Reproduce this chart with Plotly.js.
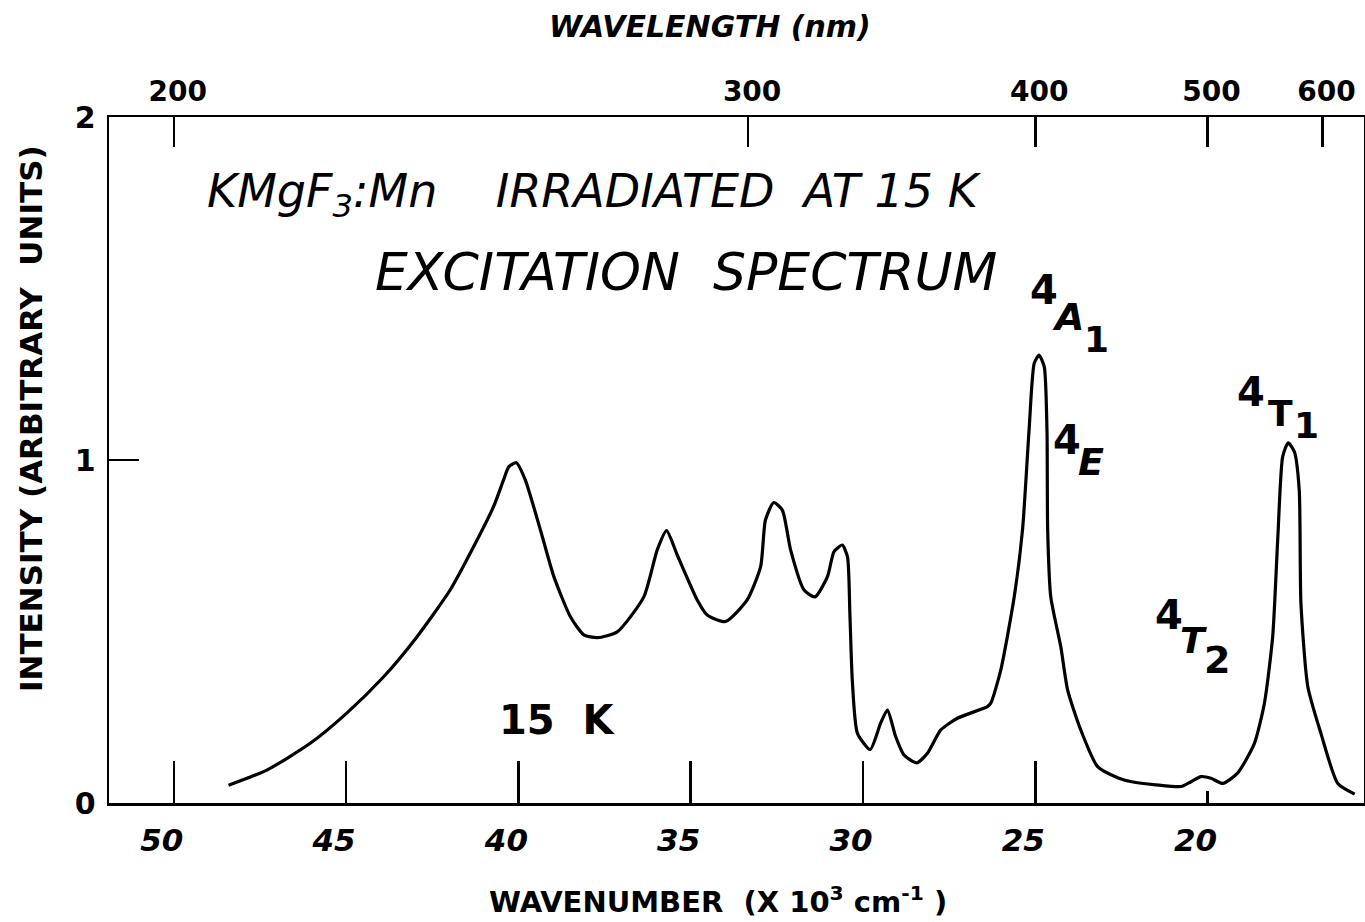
<!DOCTYPE html>
<html>
<head>
<meta charset="utf-8">
<script src="https://cdn.plot.ly/plotly-3.0.1.min.js"></script>
<style>html,body{margin:0;padding:0;background:#fff;}#chart{width:1365px;height:922px;}</style>
</head>
<body>
<div id="chart"></div>
<script>
// wavenumber (x 10^3 cm^-1) and intensity (arbitrary units)
const wavenumber = [48.41, 47.30, 46.04, 44.98, 43.91, 42.94, 41.98, 41.30, 40.72, 40.43, 40.28, 40.06,
  39.80, 39.36, 38.97, 38.49, 38.10, 37.71, 37.13, 36.36, 35.97, 35.70, 35.39, 34.81, 34.52, 33.99,
  33.36, 32.97, 32.83, 32.59, 32.34, 32.10, 31.71, 31.39, 31.03, 30.84, 30.60, 30.45, 30.38, 30.31,
  30.16, 29.79, 29.49, 29.29, 29.05, 28.81, 28.44, 28.13, 27.74, 27.26, 26.39, 26.29, 26.00, 25.61,
  25.37, 25.18, 25.03, 24.89, 24.74, 24.66, 24.64, 24.55, 24.26, 24.06, 23.68, 23.19, 22.59, 22.20,
  21.50, 20.77, 20.48, 20.19, 19.90, 19.56, 19.13, 18.64, 18.35, 18.11, 17.96, 17.82, 17.66, 17.48,
  17.34, 17.29, 17.09, 16.71, 16.22, 15.73];
const intensity = [0.052, 0.096, 0.174, 0.262, 0.368, 0.485, 0.621, 0.747, 0.864, 0.942, 0.980, 0.992,
  0.942, 0.796, 0.660, 0.543, 0.490, 0.482, 0.499, 0.601, 0.738, 0.794, 0.723, 0.592, 0.548, 0.529,
  0.592, 0.689, 0.825, 0.876, 0.854, 0.738, 0.621, 0.601, 0.660, 0.733, 0.752, 0.718, 0.553, 0.359,
  0.203, 0.156, 0.232, 0.271, 0.193, 0.140, 0.117, 0.145, 0.213, 0.247, 0.281, 0.291, 0.388, 0.601,
  0.796, 1.087, 1.282, 1.306, 1.272, 1.087, 0.796, 0.601, 0.456, 0.329, 0.213, 0.106, 0.073, 0.062,
  0.053, 0.048, 0.062, 0.077, 0.072, 0.057, 0.087, 0.174, 0.291, 0.485, 0.776, 1.010, 1.050, 1.024,
  0.913, 0.582, 0.339, 0.203, 0.057, 0.026];

// axis ticks
const wavenumberTicks = [50, 45, 40, 35, 30, 25, 20];
const wavenumberLongTicks = [50, 45, 40, 35, 30, 25];
const wavelengthTicks = [200, 300, 400, 500, 600];
const intensityTicks = [0, 1, 2];

const xRange = [51.88, 15.46];
const yRange = [0, 2];

const FB = 'DejaVu Sans, Liberation Sans, sans-serif';

const trace = {
  x: wavenumber, y: intensity, type: 'scatter', mode: 'lines',
  line: {color: '#000', width: 3.2, shape: 'spline', smoothing: 0.6},
  hoverinfo: 'skip', showlegend: false
};

function ann(text, x, y, size, opts) {
  return Object.assign({
    text: text, x: x, y: y, xref: 'x', yref: 'y', showarrow: false,
    xanchor: 'center', yanchor: 'middle',
    font: {family: FB, size: size, color: '#000', weight: 700}
  }, opts || {});
}
const ital = (size) => ({family: FB, size: size, color: '#000', weight: 700, style: 'italic'});
const titleFont = (size) => ({family: FB, size: size, color: '#000', weight: 400, style: 'italic'});

const annotations = [
  ann('KMgF<sub>3</sub>:Mn    IRRADIATED  AT 15 K', 49.09, 1.773, 46,
      {xanchor: 'left', font: titleFont(46)}),
  ann('EXCITATION  SPECTRUM', 44.21, 1.548, 52,
      {xanchor: 'left', font: titleFont(52)}),
  ann('15  K', 38.87, 0.242, 40),
  // 4A1
  ann('4', 24.75, 1.496, 40),
  ann('A', 24.05, 1.418, 38, {font: ital(38)}),
  ann('1', 23.22, 1.352, 36),
  // 4E
  ann('4', 24.08, 1.058, 40),
  ann('E', 23.39, 0.994, 38, {font: ital(38)}),
  // 4T2
  ann('4', 21.12, 0.548, 40),
  ann('T', 20.42, 0.475, 36, {font: ital(36)}),
  ann('2', 19.73, 0.417, 38),
  // 4T1
  ann('4', 18.74, 1.198, 40),
  ann('T', 17.87, 1.137, 36),
  ann('1', 17.14, 1.102, 36),
  // axis titles
  {text: 'WAVENUMBER  (X 10<sup>3</sup> cm<sup>-1</sup> )', xref: 'paper', yref: 'paper', x: 0.485, y: -0.142,
   showarrow: false, xanchor: 'center', yanchor: 'middle', font: {family: FB, size: 29, color: '#000', weight: 700}},
  {text: 'WAVELENGTH (nm)', xref: 'paper', yref: 'paper', x: 0.479, y: 1.132,
   showarrow: false, xanchor: 'center', yanchor: 'middle', font: {family: FB, size: 30, color: '#000', weight: 700, style: 'italic'}},
  {text: 'INTENSITY (ARBITRARY  UNITS)', xref: 'paper', yref: 'paper', x: -0.062, y: 0.56, textangle: -90,
   showarrow: false, xanchor: 'center', yanchor: 'middle', font: {family: FB, size: 31, color: '#000', weight: 700}}
];

const layout = {
  width: 1365, height: 922,
  margin: {l: 109, r: 1, t: 117, b: 119},
  paper_bgcolor: '#fff', plot_bgcolor: '#fff',
  showlegend: false,
  xaxis: {
    range: xRange, showgrid: false, zeroline: false,
    showline: true, linecolor: '#000', linewidth: 2.5, mirror: false,
    tickmode: 'array', tickvals: wavenumberTicks, ticktext: wavenumberTicks.map(String),
    ticks: 'inside', ticklen: 12, tickwidth: 2.5, tickcolor: '#000',
    tickfont: {family: FB, size: 31, color: '#000', weight: 700, style: 'italic'},
    ticklabelstandoff: 8, ticklabelshift: 12
  },
  xaxis3: {
    range: xRange, overlaying: 'x', side: 'bottom', showgrid: false, zeroline: false,
    showline: false, tickmode: 'array', tickvals: wavenumberLongTicks, showticklabels: false,
    ticks: 'inside', ticklen: 42, tickwidth: 2.5, tickcolor: '#000'
  },
  xaxis2: {
    range: xRange, overlaying: 'x', side: 'top', showgrid: false, zeroline: false,
    showline: true, linecolor: '#000', linewidth: 2.5,
    tickmode: 'array', tickvals: wavelengthTicks.map(nm => 1e4 / nm), ticktext: wavelengthTicks.map(String),
    ticks: 'inside', ticklen: 30, tickwidth: 2.5, tickcolor: '#000',
    tickfont: {family: FB, size: 28, color: '#000', weight: 700},
    ticklabelstandoff: 2, ticklabelshift: -4
  },
  yaxis: {
    range: yRange, showgrid: false, zeroline: false,
    showline: true, linecolor: '#000', linewidth: 2.5, mirror: true,
    tickmode: 'array', tickvals: intensityTicks, ticktext: intensityTicks.map(String),
    ticks: 'inside', ticklen: 30, tickwidth: 2.5, tickcolor: '#000',
    tickfont: {family: FB, size: 30, color: '#000', weight: 700},
    ticklabelstandoff: 5
  },
  annotations: annotations
};

const dummy2 = {x: [xRange[0]], y: [0], xaxis: 'x2', yaxis: 'y', mode: 'markers', marker: {opacity: 0}, hoverinfo: 'skip', showlegend: false};
const dummy3 = {x: [xRange[0]], y: [0], xaxis: 'x3', yaxis: 'y', mode: 'markers', marker: {opacity: 0}, hoverinfo: 'skip', showlegend: false};

Plotly.newPlot('chart', [trace, dummy2, dummy3], layout, {staticPlot: true, displayModeBar: false});
</script>
</body>
</html>
